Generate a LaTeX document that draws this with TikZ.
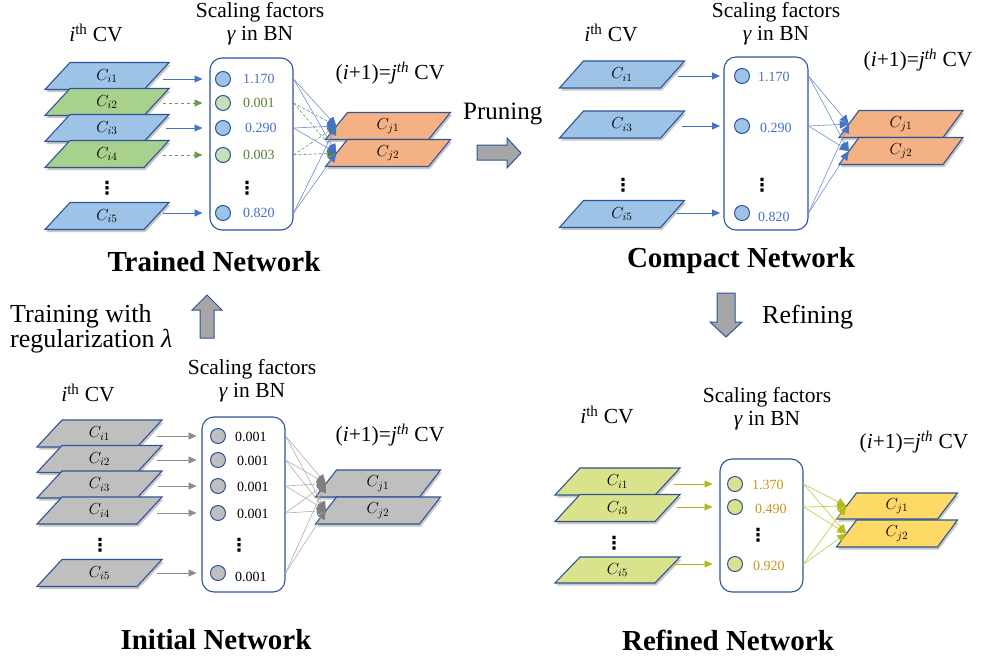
\RequirePackage{fix-cm}
\documentclass[tikz,border=0pt]{standalone}
\usepackage{fontspec}
\setmainfont{Liberation Serif}
\newfontfamily\dejavu{DejaVu Sans}
\usetikzlibrary{arrows.meta,shadows}

\definecolor{bordc}{HTML}{2F5597}
\definecolor{lblue}{HTML}{9DC3E6}
\definecolor{lgreen}{HTML}{A9D18E}
\definecolor{cgreen}{HTML}{C5E0B4}
\definecolor{tblue}{HTML}{4472C4}
\definecolor{cblue}{HTML}{6F8FD3}
\definecolor{tgreen}{HTML}{548235}
\definecolor{dgreen}{HTML}{6A9A4A}
\definecolor{lorange}{HTML}{F4B183}
\definecolor{lgray}{HTML}{BFBFBF}
\definecolor{glines}{HTML}{AFAFAF}
\definecolor{garr}{HTML}{8C8C8C}
\definecolor{dgray}{HTML}{7F7F7F}
\definecolor{lyg}{HTML}{DAE38C}
\definecolor{lyel}{HTML}{FFD966}
\definecolor{tgold}{HTML}{C9961A}
\definecolor{ygline}{HTML}{C2C83A}
\definecolor{ygarr}{HTML}{B5BA20}
\definecolor{arrgray}{HTML}{A6A6A6}

\tikzset{
  layerbox/.style={draw=bordc, line width=1.1pt, line join=miter,
    drop shadow={shadow xshift=1.5pt, shadow yshift=-2.5pt, opacity=0.3, fill=black!70}},
  lbl/.style={inner sep=0pt, font=\fontsize{16}{16}\selectfont},
  circ/.style={circle, draw=bordc, line width=1pt, minimum size=15pt, inner sep=0pt},
  val/.style={anchor=west, inner sep=0pt, font=\fontsize{14}{14}\selectfont},
  hdr/.style={font=\fontsize{21.5}{23}\selectfont, align=center, inner sep=0pt},
  ttl/.style={font=\bfseries\fontsize{29}{30}\selectfont, inner sep=0pt},
  side/.style={font=\fontsize{26}{28}\selectfont, inner sep=0pt, anchor=base west},
  bnbox/.style={draw=bordc, rounded corners=12pt, line width=1.1pt, fill=white, inner sep=0pt},
  inarr/.style={-{Triangle[length=8pt,width=7pt]}, line width=0.9pt},
  conn/.style={-{Triangle[length=9pt,width=8pt]}, line width=0.6pt},
  bigarr/.style={fill=arrgray, draw=bordc, line width=1pt, line join=miter},
  vdts/.style={inner sep=0pt, font=\dejavu\bfseries\fontsize{18}{18}\selectfont}
}

% \lyr{name}{cx}{cy}{w}{h}{skew}{fill}{label}
\newcommand\lyr[8]{%
  \draw[layerbox, fill=#7] (#2-#4/2-#6/2,#3+#5/2) -- (#2+#4/2-#6/2,#3+#5/2)
    -- (#2+#4/2+#6/2,#3-#5/2) -- (#2-#4/2+#6/2,#3-#5/2) -- cycle;
  \node[lbl, minimum width=#4pt, minimum height=#5pt] (#1) at (#2,#3) {#8};}

\begin{document}
\begin{tikzpicture}[x=1pt,y=-1pt]
\fill[white] (0,0) rectangle (982,661);
\useasboundingbox (0,0) rectangle (982,661);

% ================= Trained Network (top left) =================
\node[hdr] (tlhi) at (96,33) {\textit{i}\textsuperscript{th} CV};
\node[hdr] (tlhs) at (260,23.5) {Scaling factors\\\textit{γ} in BN};
\node[hdr] (tlhj) at (390,73) {(\textit{i}+1)=\textit{j}\textsuperscript{\textit{th}} CV};

\lyr{tlL1}{107}{76}{99}{27}{25}{lblue}{$C_{i1}$}
\lyr{tlL2}{107}{102}{99}{27}{25}{lgreen}{$C_{i2}$}
\lyr{tlL3}{107}{128}{99}{27}{25}{lblue}{$C_{i3}$}
\lyr{tlL4}{107}{154}{99}{27}{25}{lgreen}{$C_{i4}$}
\lyr{tlL5}{107}{216}{99}{27}{25}{lblue}{$C_{i5}$}
\node[vdts] (tlvd) at (107,188) {⋮};

\node[bnbox, minimum width=83pt, minimum height=172pt] (tlB) at (251.5,144) {};
\node[circ, fill=lblue]  (tlc1) at (223,79) {};
\node[circ, fill=cgreen] (tlc2) at (223,103) {};
\node[circ, fill=lblue]  (tlc3) at (223,128) {};
\node[circ, fill=cgreen] (tlc4) at (223,155) {};
\node[circ, fill=lblue]  (tlc5) at (223,213) {};
\node[val, text=tblue]  (tlv1) at (243,79) {1.170};
\node[val, text=tgreen] (tlv2) at (243,103) {0.001};
\node[val, text=tblue]  (tlv3) at (245,128) {0.290};
\node[val, text=tgreen] (tlv4) at (243,155) {0.003};
\node[val, text=tblue]  (tlv5) at (243,213) {0.820};
\node[vdts] (tlvd2) at (247,188) {⋮};

\draw[inarr, tblue]  ([xshift=6.5pt]tlL1.east |- tlc1) -- ([xshift=-12.5pt]tlc1.west);
\draw[inarr, dgreen, dashed] ([xshift=6.5pt]tlL2.east |- tlc2) -- ([xshift=-12.5pt]tlc2.west);
\draw[inarr, tblue]  ([xshift=9pt]tlL3.east |- tlc3) -- ([xshift=-12.5pt]tlc3.west);
\draw[inarr, dgreen, dashed] ([xshift=6.5pt]tlL4.east |- tlc4) -- ([xshift=-12.5pt]tlc4.west);
\draw[inarr, tblue]  ([xshift=6.5pt]tlL5.east |- tlc5) -- ([xshift=-12.5pt]tlc5.west);

\lyr{tlJ1}{388}{126}{103}{27}{22}{lorange}{$C_{j1}$}
\lyr{tlJ2}{388}{153}{103}{27}{22}{lorange}{$C_{j2}$}

\foreach \c in {tlc2,tlc4}{
  \foreach \j in {tlJ1,tlJ2}{
    \draw[conn, dgreen, dash pattern=on 3pt off 2pt, -{Triangle[length=9pt,width=8pt,color=tgreen]}] (tlB.east |- \c) -- (\j.west);}}
\foreach \c in {tlc1,tlc3,tlc5}{
  \foreach \j in {tlJ1,tlJ2}{
    \draw[conn, cblue, -{Triangle[length=9pt,width=8pt,color=tblue]}] (tlB.east |- \c) -- (\j.west);}}

\node[ttl] (tlT) at (214,262) {Trained Network};

% ================= Compact Network (top right) =================
\node[hdr] (trhi) at (611,33) {\textit{i}\textsuperscript{th} CV};
\node[hdr] (trhs) at (776,23.5) {Scaling factors\\\textit{γ} in BN};
\node[hdr] (trhj) at (918,60) {(\textit{i}+1)=\textit{j}\textsuperscript{\textit{th}} CV};

\lyr{trL1}{622}{74.5}{101}{27}{24}{lblue}{$C_{i1}$}
\lyr{trL3}{622}{124.5}{101}{27}{24}{lblue}{$C_{i3}$}
\lyr{trL5}{622}{214}{101}{27}{24}{lblue}{$C_{i5}$}
\node[vdts] (trvd) at (623,185) {⋮};

\node[bnbox, minimum width=84pt, minimum height=173pt] (trB) at (766,143.5) {};
\node[circ, fill=lblue] (trc1) at (742,76) {};
\node[circ, fill=lblue] (trc3) at (742,126) {};
\node[circ, fill=lblue] (trc5) at (742,213) {};
\node[val, text=tblue] (trv1) at (758,77) {1.170};
\node[val, text=tblue] (trv3) at (760,128) {0.290};
\node[val, text=tblue] (trv5) at (758,217) {0.820};
\node[vdts] (trvd2) at (762,185) {⋮};

\draw[inarr, tblue] ([xshift=5.5pt]trL1.east |- trc1) -- ([xshift=-14pt]trc1.west);
\draw[inarr, tblue] ([xshift=9pt]trL3.east |- trc3) -- ([xshift=-14pt]trc3.west);
\draw[inarr, tblue] ([xshift=4.5pt]trL5.east |- trc5) -- ([xshift=-14pt]trc5.west);

\lyr{trJ1}{901}{124}{104}{27}{20}{lorange}{$C_{j1}$}
\lyr{trJ2}{901}{151}{104}{27}{20}{lorange}{$C_{j2}$}

\foreach \c in {trc1,trc3,trc5}{
  \foreach \j in {trJ1,trJ2}{
    \draw[conn, cblue, -{Triangle[length=9pt,width=8pt,color=tblue]}] (trB.east |- \c) -- (\j.west);}}

\node[ttl] (trT) at (741,261) {Compact Network};

% ================= Initial Network (bottom left) =================
\node[hdr] (blhi) at (88,393) {\textit{i}\textsuperscript{th} CV};
\node[hdr] (blhs) at (252,380.5) {Scaling factors\\\textit{γ} in BN};
\node[hdr] (blhj) at (390,435) {(\textit{i}+1)=\textit{j}\textsuperscript{\textit{th}} CV};

\lyr{blL1}{99.5}{433.5}{100}{27}{25}{lgray}{$C_{i1}$}
\lyr{blL2}{99.5}{459}{100}{27}{25}{lgray}{$C_{i2}$}
\lyr{blL3}{99.5}{484.5}{100}{27}{25}{lgray}{$C_{i3}$}
\lyr{blL4}{99.5}{510.5}{100}{27}{25}{lgray}{$C_{i4}$}
\lyr{blL5}{99.5}{573}{100}{27}{25}{lgray}{$C_{i5}$}
\node[vdts] (blvd) at (100,545) {⋮};

\node[bnbox, minimum width=83pt, minimum height=175pt] (blB) at (243.5,504.5) {};
\node[circ, fill=lgray] (blc1) at (218,436) {};
\node[circ, fill=lgray] (blc2) at (218,460) {};
\node[circ, fill=lgray] (blc3) at (218,486) {};
\node[circ, fill=lgray] (blc4) at (218,513) {};
\node[circ, fill=lgray] (blc5) at (218,573) {};
\node[val] (blv1) at (235,437) {0.001};
\node[val] (blv2) at (237,461) {0.001};
\node[val] (blv3) at (237,487) {0.001};
\node[val] (blv4) at (237,514) {0.001};
\node[val] (blv5) at (235,577) {0.001};
\node[vdts] (blvd2) at (239,545) {⋮};

\draw[inarr, garr] ([xshift=7.5pt]blL1.east |- blc1) -- ([xshift=-13.5pt]blc1.west);
\draw[inarr, garr] ([xshift=7.5pt]blL2.east |- blc2) -- ([xshift=-13.5pt]blc2.west);
\draw[inarr, garr] ([xshift=8.5pt]blL3.east |- blc3) -- ([xshift=-13.5pt]blc3.west);
\draw[inarr, garr] ([xshift=7.5pt]blL4.east |- blc4) -- ([xshift=-13.5pt]blc4.west);
\draw[inarr, garr] ([xshift=7.5pt]blL5.east |- blc5) -- ([xshift=-13.5pt]blc5.west);

\lyr{blJ1}{378}{483.5}{104}{27}{21}{lgray}{$C_{j1}$}
\lyr{blJ2}{378}{510.5}{104}{27}{21}{lgray}{$C_{j2}$}

\foreach \c in {blc1,blc2,blc3,blc4,blc5}{
  \foreach \j in {blJ1,blJ2}{
    \draw[conn, glines, -{Triangle[length=9pt,width=8pt,color=dgray]}] (blB.east |- \c) -- (\j.west);}}

\node[ttl] (blT) at (216,640) {Initial Network};

% ================= Refined Network (bottom right) =================
\node[hdr] (brhi) at (607,415) {\textit{i}\textsuperscript{th} CV};
\node[hdr] (brhs) at (767,408.5) {Scaling factors\\\textit{γ} in BN};
\node[hdr] (brhj) at (914,442) {(\textit{i}+1)=\textit{j}\textsuperscript{\textit{th}} CV};

\lyr{brL1}{617.5}{481.5}{100}{27}{25}{lyg}{$C_{i1}$}
\lyr{brL3}{617.5}{508}{100}{27}{25}{lyg}{$C_{i3}$}
\lyr{brL5}{617.5}{570}{100}{26}{25}{lyg}{$C_{i5}$}
\node[vdts] (brvd) at (614,543) {⋮};

\node[bnbox, minimum width=83pt, minimum height=133pt] (brB) at (761.5,525.5) {};
\node[circ, fill=lyg] (brc1) at (735,484) {};
\node[circ, fill=lyg] (brc3) at (735,507) {};
\node[circ, fill=lyg] (brc5) at (735,564) {};
\node[val, text=tgold] (brv1) at (752,485) {1.370};
\node[val, text=tgold] (brv3) at (755,509) {0.490};
\node[val, text=tgold] (brv5) at (753,566) {0.920};
\node[vdts] (brvd2) at (758,535) {⋮};

\draw[inarr, ygarr] ([xshift=6.5pt]brL1.east |- brc1) -- ([xshift=-14.5pt]brc1.west);
\draw[inarr, ygarr] ([xshift=9.5pt]brL3.east |- brc3) -- ([xshift=-14.5pt]brc3.west);
\draw[inarr, ygarr] ([xshift=5.5pt]brL5.east |- brc5) -- ([xshift=-14.5pt]brc5.west);

\lyr{brJ1}{897}{506}{101}{26}{20}{lyel}{$C_{j1}$}
\lyr{brJ2}{897}{533.5}{101}{27}{20}{lyel}{$C_{j2}$}

\foreach \c in {brc1,brc3,brc5}{
  \foreach \j in {brJ1,brJ2}{
    \draw[conn, ygline, -{Triangle[length=9pt,width=8pt,color=ygarr]}] (brB.east |- \c) -- (\j.west);}}

\node[ttl] (brT) at (728,640) {Refined Network};

% ================= transitions =================
\node[side, font=\fontsize{25}{27}\selectfont] (prun) at (463,119) {Pruning};
\draw[bigarr] (477,145) -- (507,145) -- (507,138) -- (521,153) -- (507,168) -- (507,160) -- (477,160) -- cycle;

\node[side] (tr1) at (10,322) {Training with};
\node[side] (tr2) at (10,347) {regularization \textit{λ}};
\draw[bigarr] (200,338) -- (200,310) -- (192,310) -- (207,295) -- (222,310) -- (214,310) -- (214,338) -- cycle;

\node[side] (ref) at (762,323) {Refining};
\draw[bigarr] (717,293) -- (735,293) -- (735,322) -- (742,322) -- (726,337) -- (710,322) -- (717,322) -- cycle;

\end{tikzpicture}
\end{document}
